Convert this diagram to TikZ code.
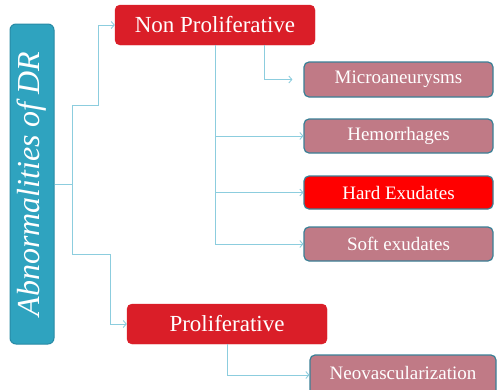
\documentclass[tikz,border=0pt]{standalone}
\usepackage{fontspec}
\setmainfont{Liberation Serif}
\usetikzlibrary{arrows.meta}
\definecolor{abnblue}{RGB}{47,163,191}
\definecolor{abnborder}{RGB}{40,138,165}
\definecolor{redbox}{RGB}{218,30,40}
\definecolor{pinkbox}{RGB}{192,122,134}
\definecolor{hardred}{RGB}{255,0,0}
\definecolor{tealborder}{RGB}{58,128,150}
\definecolor{conncol}{RGB}{140,205,222}
\tikzset{
  mainbox/.style={draw=redbox, fill=redbox, rounded corners=5pt, text=white, minimum width=200pt, minimum height=40pt, inner sep=0pt, font=\fontsize{23}{26}\selectfont},
  leafbox/.style={draw=tealborder, line width=1.2pt, fill=pinkbox, rounded corners=5pt, text=white, minimum width=189pt, inner sep=0pt, font=\fontsize{19}{22}\selectfont},
  conn/.style={draw=conncol, line width=0.9pt},
  arr/.style={conn, -{Straight Barb[length=3pt,width=7pt]}}
}
\begin{document}
\begin{tikzpicture}[x=1pt,y=-1pt]
\useasboundingbox (0,0) rectangle (497,389);
\node[draw=abnborder, line width=1pt, fill=abnblue, rounded corners=6pt, rotate=90, minimum width=320pt, minimum height=44pt, inner sep=0pt, text=white, font=\fontsize{32}{36}\selectfont\itshape] (abn) at (32,184) {Abnormalities of DR};
\node[mainbox] (np) at (215,25) {Non Proliferative};
\node[mainbox] (pr) at (227,324) {Proliferative};
\node[leafbox, minimum height=35pt] (mi) at (398.5,79.5) {Microaneurysms};
\node[leafbox, minimum height=34pt] (he) at (398.5,136) {Hemorrhages};
\node[leafbox, minimum height=33pt, fill=hardred] (hx) at (398.5,192.5) {Hard Exudates};
\node[leafbox, minimum height=34pt] (se) at (398.5,244) {Soft exudates};
\node[leafbox, minimum width=186pt, minimum height=40pt] (ne) at (403,375) {};
\node[text=white, font=\fontsize{19}{22}\selectfont] (netext) at (403,373) {Neovascularization};
\coordinate (j) at (72,184);
\draw[conn] (abn.south) -- (j);
\draw[arr] (j) -- (72,105) -- (98,105) |- (np.west);
\draw[arr] (j) -- (72,254) -- (110,254) |- (pr.west);
\draw[arr] (np.south -| 264,0) |- ([xshift=-11pt]mi.west);
\draw[arr] (np.south) |- (he.west);
\draw[arr] (np.south) |- (hx.west);
\draw[arr] (np.south) |- (se.west);
\draw[arr] (pr.south) |- (ne.west);
\end{tikzpicture}
\end{document}
